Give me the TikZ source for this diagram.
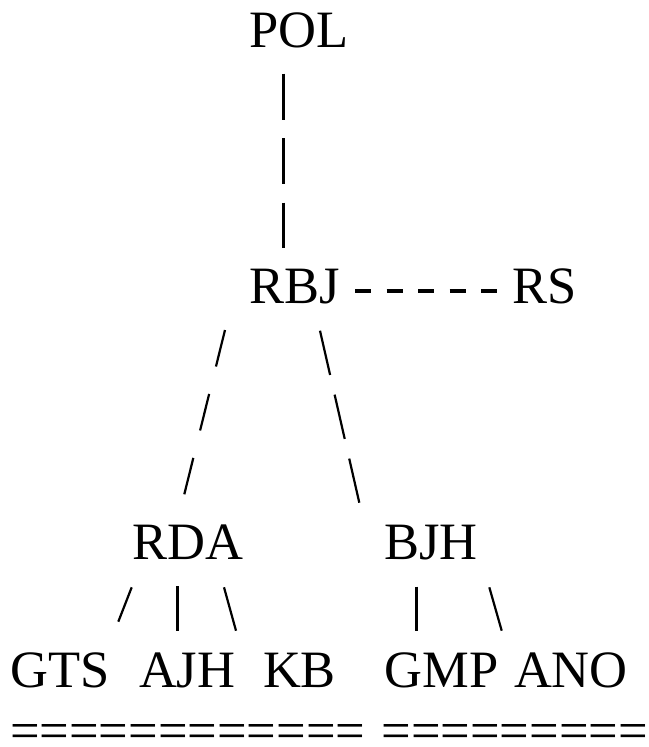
\documentclass[tikz,border=0pt]{standalone}
\usepackage{fontspec}
\setmainfont{Liberation Serif}
\usetikzlibrary{calc}
\begin{document}
\begin{tikzpicture}[x=1pt,y=-1pt,
  lbl/.style={font=\fontsize{52.5}{63}\selectfont, inner sep=0pt, outer sep=0pt, anchor=base west},
  vbar/.style={line width=3pt, line cap=butt},
  slant/.style={line width=2.2pt, line cap=butt},
  hdash/.style={line width=3.8pt, line cap=butt, dash pattern=on 16pt off 15.5pt},
  vdashed/.style={vbar, dash pattern=on 46pt off 18.5pt},
  ldiag/.style={slant, dash pattern=on 37.6pt off 28.3pt},
  rdiag/.style={slant, dash pattern=on 45.4pt off 20.2pt}]
\fill[white] (0,0) rectangle (648,747);
\clip (0,0) rectangle (648,747);
% nodes
\node[lbl] (POL) at (249,47) {POL};
\node[lbl] (RBJ) at (249,303) {RBJ};
\node[lbl] (RS) at (512,303) {RS};
\node[lbl] (RDA) at (132.5,559) {RDA};
\node[lbl] (BJH) at (384.5,559) {BJH};
\node[lbl] (GTS) at (10.5,687) {GTS};
\node[lbl] (AJH) at (139,687) {AJH};
\node[lbl] (KB) at (263,687) {KB};
\node[lbl] (GMP) at (384.5,687) {GMP};
\node[lbl] (ANO) at (514,687) {ANO};
\node[lbl, text depth=0pt] (eqa) at (10,748) {============};
\node[lbl, text depth=0pt] (eqb) at (381.5,748) {=========};
% connectors
\draw[vdashed] ($(POL.base west)+(34,26.5)$) -- ($(RBJ.base west)+(34,-55)$);
\draw[hdash] ($(RBJ.base west)+(106,-12)$) -- ($(RS.base west)+(-15,-12)$);
\draw[ldiag] ($(RBJ.base west)+(-24,27)$) -- ($(RDA.base west)+(51.8,-64.7)$);
\draw[rdiag] ($(RBJ.base west)+(71,27.7)$) -- ($(BJH.base west)+(-25.2,-56.3)$);
\draw[slant] ($(RDA.base west)+(-0.8,28.3)$) -- ($(GTS.base west)+(107.8,-65.3)$);
\draw[vbar] ($(RDA.base west)+(44.8,27)$) -- ($(AJH.base west)+(38.3,-56.3)$);
\draw[slant] ($(RDA.base west)+(91.5,28.3)$) -- ($(KB.base west)+(-27,-56.3)$);
\draw[vbar] ($(BJH.base west)+(32.2,27.7)$) -- ($(GMP.base west)+(32.2,-56.3)$);
\draw[slant] ($(BJH.base west)+(104.8,28.3)$) -- ($(ANO.base west)+(-12.3,-56.3)$);
\end{tikzpicture}
\end{document}
